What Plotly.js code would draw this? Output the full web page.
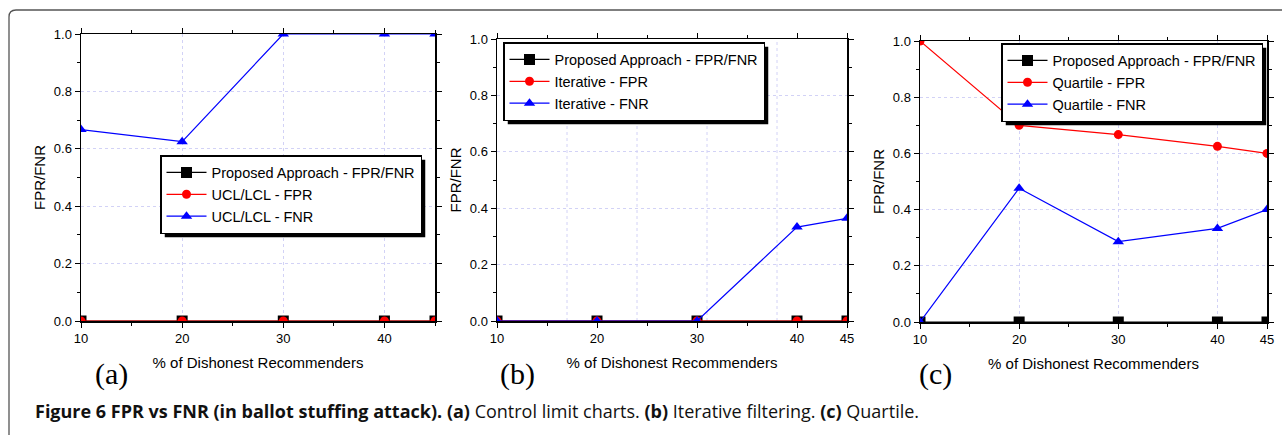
<!DOCTYPE html>
<html>
<head>
<meta charset="utf-8">
<script src="https://cdn.plot.ly/plotly-3.0.1.min.js"></script>
<style>html,body{margin:0;padding:0;background:#fff;}#chart{width:1282px;height:435px;}</style>
</head>
<body>
<div id="chart"></div>
<script>
// ---- data ----
const xPct = [10, 20, 30, 40, 45];
const xTicksA = [10, 20, 30, 40];
const xTicksBC = [10, 20, 30, 40, 45];
const gridB = [17, 24, 31, 38];

const proposedA = [0, 0, 0, 0, 0];
const uclFPR = [0, 0, 0, 0, 0];
const uclFNR = [0.667, 0.625, 1, 1, 1];

const proposedB = [0, 0, 0, 0, 0];
const iterFPR = [0, 0, 0, 0, 0];
const iterFNR = [0, 0, 0, 0.333, 0.364];

const proposedC = [0, 0, 0, 0, 0];
const quartFPR = [1.0, 0.7, 0.667, 0.625, 0.6];
const quartFNR = [0, 0.476, 0.286, 0.333, 0.4];

const namesA = ['Proposed Approach - FPR/FNR', 'UCL/LCL - FPR', 'UCL/LCL - FNR'];
const namesB = ['Proposed Approach - FPR/FNR', 'Iterative - FPR', 'Iterative - FNR'];
const namesC = ['Proposed Approach - FPR/FNR', 'Quartile - FPR', 'Quartile - FNR'];

const xTitle = '% of Dishonest Recommenders';
const yTitle = 'FPR/FNR';
const panelLabels = ['(a)', '(b)', '(c)'];
const caption = '<b>Figure 6 FPR vs FNR (in ballot stuffing attack).</b> <b>(a)</b> Control limit charts. <b>(b)</b> Iterative filtering. <b>(c)</b> Quartile.';

// ---- layout helpers ----
const W = 1282, H = 435;
const fx = p => p / W;
const fy = p => 1 - p / H;
const SANS = 'Arial, Liberation Sans, sans-serif';
const SERIF = 'Times New Roman, Liberation Serif, serif';

const styles = [
  {color: '#000000', symbol: 'square', size: 11, lw: 1.2},
  {color: '#ff0000', symbol: 'circle', size: 9, lw: 1.2},
  {color: '#0000ff', symbol: 'triangle-up', size: 10, lw: 1.2}
];

function mk(y, name, i, xa, ya, leg) {
  const s = styles[i];
  return {
    x: xPct, y: y, name: name, type: 'scatter', mode: 'lines+markers',
    xaxis: xa, yaxis: ya, legend: leg,
    line: {color: s.color, width: s.lw},
    marker: {color: s.color, symbol: s.symbol, size: s.size},
    hoverinfo: 'skip'
  };
}

const data = [
  mk(proposedA, namesA[0], 0, 'x', 'y', 'legend'),
  mk(uclFPR, namesA[1], 1, 'x', 'y', 'legend'),
  mk(uclFNR, namesA[2], 2, 'x', 'y', 'legend'),
  mk(proposedB, namesB[0], 0, 'x2', 'y2', 'legend2'),
  mk(iterFPR, namesB[1], 1, 'x2', 'y2', 'legend2'),
  mk(iterFNR, namesB[2], 2, 'x2', 'y2', 'legend2'),
  mk(proposedC, namesC[0], 0, 'x3', 'y3', 'legend3'),
  mk(quartFPR, namesC[1], 1, 'x3', 'y3', 'legend3'),
  mk(quartFNR, namesC[2], 2, 'x3', 'y3', 'legend3')
];

const gridColor = '#d2d2f6';
function xAxis(dom, anchor, ticks, grid) {
  return {
    domain: [fx(dom[0]), fx(dom[1])], anchor: anchor, range: [10, 45],
    tickmode: 'array', tickvals: ticks, ticktext: ticks.map(String),
    showline: true, linecolor: '#000', linewidth: 1.5, mirror: 'ticks',
    ticks: 'outside', ticklen: 5, tickwidth: 1, tickcolor: '#000',
    showgrid: grid, gridcolor: gridColor, griddash: 'dot', gridwidth: 1,
    zeroline: false,
    minor: {tickmode: 'linear', tick0: 0, dtick: 5, ticks: 'outside', ticklen: 3, tickcolor: '#000', showgrid: false},
    tickfont: {family: SANS, size: 13, color: '#000'},
    title: {text: xTitle, font: {family: SANS, size: 15, color: '#000'}, standoff: 12}
  };
}
function yAxis(dom, anchor) {
  return {
    domain: [fy(dom[1]), fy(dom[0])], anchor: anchor, range: [0, 1],
    tickmode: 'linear', tick0: 0, dtick: 0.2, tickformat: '.1f',
    showline: true, linecolor: '#000', linewidth: 1.5, mirror: 'ticks',
    ticks: 'outside', ticklen: 5, tickwidth: 1, tickcolor: '#000',
    showgrid: true, gridcolor: gridColor, griddash: 'dot', gridwidth: 1,
    zeroline: false,
    minor: {tickmode: 'linear', tick0: 0, dtick: 0.1, ticks: 'outside', ticklen: 3, tickcolor: '#000', showgrid: false},
    tickfont: {family: SANS, size: 13, color: '#000'},
    title: {text: yTitle, font: {family: SANS, size: 15, color: '#000'}, standoff: 4}
  };
}
function legendAt(px, py) {
  return {
    x: fx(px), y: fy(py), xanchor: 'left', yanchor: 'top',
    xref: 'paper', yref: 'paper',
    bgcolor: '#ffffff', bordercolor: '#000', borderwidth: 1.5,
    font: {family: SANS, size: 14.5, color: '#000'},
    itemwidth: 40, tracegroupgap: 0
  };
}

const frameR = 7;
const framePath = 'M ' + fx(9) + ' ' + fy(435) + ' L ' + fx(9) + ' ' + fy(10 + frameR) +
  ' Q ' + fx(9) + ' ' + fy(10) + ' ' + fx(9 + frameR) + ' ' + fy(10) + ' L ' + fx(1282) + ' ' + fy(10);

// panel (b) vertical grid lines sit off the tick positions in the original
const gridShapesB = gridB.map(v => ({
  type: 'line', xref: 'x2', yref: 'y2 domain', x0: v, x1: v, y0: 0, y1: 1,
  layer: 'below', line: {color: gridColor, width: 1, dash: 'dot'}
}));

const baseShapes = [
  {type: 'path', path: framePath, xref: 'paper', yref: 'paper', line: {color: '#555', width: 1.3}}
].concat(gridShapesB);

const layout = {
  width: W, height: H,
  margin: {l: 0, r: 0, t: 0, b: 0},
  paper_bgcolor: '#fff', plot_bgcolor: '#fff',
  showlegend: true,
  xaxis: xAxis([81, 435], 'y', xTicksA, true),
  yaxis: yAxis([34, 321], 'x'),
  xaxis2: xAxis([497, 847], 'y2', xTicksBC, false),
  yaxis2: yAxis([39, 321], 'x2'),
  xaxis3: xAxis([920, 1267], 'y3', xTicksBC, true),
  yaxis3: yAxis([41, 322], 'x3'),
  legend: legendAt(160, 155),
  legend2: legendAt(503, 42),
  legend3: legendAt(1001, 43),
  annotations: [
    {text: panelLabels[0], x: fx(111), y: fy(374), xref: 'paper', yref: 'paper', showarrow: false,
     xanchor: 'center', yanchor: 'middle', font: {family: SERIF, size: 30, color: '#000'}},
    {text: panelLabels[1], x: fx(517), y: fy(374), xref: 'paper', yref: 'paper', showarrow: false,
     xanchor: 'center', yanchor: 'middle', font: {family: SERIF, size: 30, color: '#000'}},
    {text: panelLabels[2], x: fx(935), y: fy(374), xref: 'paper', yref: 'paper', showarrow: false,
     xanchor: 'center', yanchor: 'middle', font: {family: SERIF, size: 30, color: '#000'}},
    {text: caption, x: fx(33), y: fy(411), xref: 'paper', yref: 'paper', showarrow: false,
     xanchor: 'left', yanchor: 'middle', font: {family: 'Open Sans, sans-serif', size: 18, color: '#111'}}
  ],
  shapes: baseShapes
};

Plotly.newPlot('chart', data, layout, {displayModeBar: false, staticPlot: true}).then(function (gd) {
  const root = gd.getBoundingClientRect();
  const bgs = gd.querySelectorAll('.infolayer g[class^="legend"] > rect.bg');
  const shadows = [];
  bgs.forEach(function (r) {
    const b = r.getBoundingClientRect();
    const l = b.left - root.left, t = b.top - root.top;
    shadows.push({
      type: 'rect', xref: 'paper', yref: 'paper', layer: 'above',
      x0: fx(l + 4), x1: fx(l + b.width + 4), y0: fy(t + 4), y1: fy(t + b.height + 4),
      fillcolor: '#000', line: {width: 0}
    });
  });
  return Plotly.relayout(gd, {shapes: baseShapes.concat(shadows)});
});
</script>
</body>
</html>
